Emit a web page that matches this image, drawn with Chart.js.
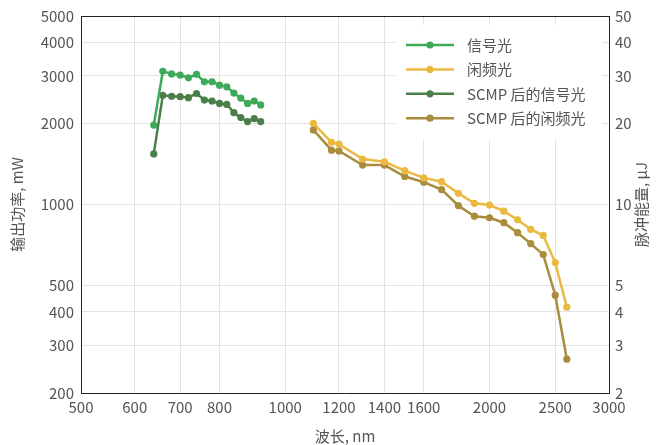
<!DOCTYPE html>
<html lang="zh">
<head>
    <meta charset="UTF-8">
    <title>信号光 / 闲频光 输出功率</title>
    <script src="https://cdn.jsdelivr.net/npm/chart.js"></script>
    <style>
        body { margin: 0; background: #fff; }
        .chart-box { width: 664px; height: 445px; position: relative; }
    </style>
</head>
<body>
    <div class="chart-box"><canvas id="chart"></canvas></div>

    <script>
        // wavelengths, nm
        const signalWl = [640, 660, 680, 700, 720, 740, 760, 780, 800, 820, 840, 860, 880, 900, 920];
        const idlerWl = [1100, 1170, 1200, 1300, 1400, 1500, 1600, 1700, 1800, 1900, 2000, 2100, 2200, 2300, 2400, 2500, 2600];

        // output power, mW
        const signalPower = [1970, 3120, 3050, 3020, 2950, 3040, 2850, 2850, 2770, 2730, 2590, 2480, 2370, 2420, 2340];
        const scmpSignalPower = [1540, 2540, 2520, 2510, 2490, 2580, 2440, 2420, 2370, 2350, 2190, 2100, 2030, 2080, 2030];
        const idlerPower = [2000, 1700, 1675, 1475, 1440, 1335, 1255, 1215, 1100, 1010, 995, 945, 878, 808, 768, 609, 416];
        const scmpIdlerPower = [1890, 1590, 1580, 1400, 1400, 1270, 1210, 1135, 990, 905, 893, 856, 786, 716, 652, 461, 267];

        const seriesLabels = ['信号光', '闲频光', 'SCMP 后的信号光', 'SCMP 后的闲频光'];
        const seriesColors = ['#3daa5a', '#ebb940', '#4a7f4a', '#a98c3c'];

        const xTicks = [500, 600, 700, 800, 1000, 1200, 1400, 1600, 2000, 2500, 3000];
        const yTicks = [200, 300, 400, 500, 1000, 2000, 3000, 4000, 5000];
        const y2Ticks = [2, 3, 4, 5, 10, 20, 30, 40, 50];

        const FONT = "'Noto Sans CJK SC', 'Noto Sans', sans-serif";
        const TEXT = '#555';
        const GRID = '#e3e3e3';
        const AXIS = '#222';

        const toPoints = (xs, ys) => xs.map((x, i) => ({ x: x, y: ys[i] }));
        const fixedTicks = list => scale => { scale.ticks = list.map(v => ({ value: v })); };

        function makeSet(i, xs, ys) {
            return {
                label: seriesLabels[i],
                data: toPoints(xs, ys),
                borderColor: seriesColors[i],
                backgroundColor: seriesColors[i],
                borderWidth: 2.5,
                pointRadius: 3.6,
                pointBorderWidth: 0,
                pointHoverRadius: 4,
                tension: 0,
                yAxisID: 'y'
            };
        }

        // top border, right-hand title and the legend inside the plot
        const extras = {
            id: 'extras',
            afterDatasetsDraw(chart) {
                const { ctx, chartArea: a } = chart;
                ctx.save();
                ctx.strokeStyle = AXIS;
                ctx.lineWidth = 1;
                ctx.beginPath();
                ctx.moveTo(a.left, a.top + 0.5);
                ctx.lineTo(a.right, a.top + 0.5);
                ctx.stroke();

                ctx.fillStyle = TEXT;
                ctx.font = '15px ' + FONT;
                ctx.textAlign = 'center';
                ctx.textBaseline = 'middle';
                ctx.translate(641, (a.top + a.bottom) / 2);
                ctx.rotate(-Math.PI / 2);
                ctx.fillText('脉冲能量, μJ', 0, 0);
                ctx.restore();

                // legend
                ctx.save();
                ctx.fillStyle = '#fff';
                ctx.fillRect(395, 25, 207, 115);
                ctx.font = '15px ' + FONT;
                ctx.textBaseline = 'middle';
                seriesLabels.forEach((label, i) => {
                    const y = 45 + i * 24.4;
                    ctx.strokeStyle = seriesColors[i];
                    ctx.fillStyle = seriesColors[i];
                    ctx.lineWidth = 2.5;
                    ctx.beginPath();
                    ctx.moveTo(406, y);
                    ctx.lineTo(454, y);
                    ctx.stroke();
                    ctx.beginPath();
                    ctx.arc(430, y, 3.6, 0, Math.PI * 2);
                    ctx.fill();
                    ctx.fillStyle = TEXT;
                    ctx.fillText(label, 467, y);
                });
                ctx.restore();
            }
        };

        new Chart(document.getElementById('chart'), {
            type: 'line',
            data: {
                datasets: [
                    makeSet(0, signalWl, signalPower),
                    makeSet(1, idlerWl, idlerPower),
                    makeSet(2, signalWl, scmpSignalPower),
                    makeSet(3, idlerWl, scmpIdlerPower)
                ]
            },
            options: {
                responsive: true,
                maintainAspectRatio: false,
                animation: false,
                layout: { padding: { top: 15, left: 0, right: 0, bottom: 0 } },
                plugins: {
                    legend: { display: false },
                    tooltip: { enabled: false }
                },
                scales: {
                    x: {
                        type: 'logarithmic',
                        min: 500,
                        max: 3000,
                        afterBuildTicks: fixedTicks(xTicks),
                        afterFit: s => { s.height = 52; },
                        grid: { color: GRID, drawTicks: false },
                        border: { color: AXIS, width: 1 },
                        ticks: {
                            autoSkip: false,
                            maxRotation: 0,
                            padding: 5,
                            color: TEXT,
                            font: { family: FONT, size: 15 },
                            callback: v => String(v)
                        },
                        title: {
                            display: true,
                            text: '波长, nm',
                            color: TEXT,
                            font: { family: FONT, size: 15 },
                            padding: { top: 0, bottom: 0 }
                        }
                    },
                    y: {
                        type: 'logarithmic',
                        position: 'left',
                        min: 200,
                        max: 5000,
                        afterBuildTicks: fixedTicks(yTicks),
                        afterFit: s => { s.width = 81; },
                        grid: { color: GRID, drawTicks: false },
                        border: { color: AXIS, width: 1 },
                        ticks: {
                            autoSkip: false,
                            padding: 7,
                            color: TEXT,
                            font: { family: FONT, size: 15 },
                            callback: v => String(v)
                        },
                        title: {
                            display: true,
                            text: '输出功率, mW',
                            color: TEXT,
                            font: { family: FONT, size: 15 },
                            padding: { top: 8, bottom: 0 }
                        }
                    },
                    y2: {
                        type: 'logarithmic',
                        position: 'right',
                        min: 2,
                        max: 50,
                        afterBuildTicks: fixedTicks(y2Ticks),
                        afterFit: s => { s.width = 55; },
                        grid: { display: false, drawTicks: false },
                        border: { color: AXIS, width: 1 },
                        ticks: {
                            autoSkip: false,
                            padding: 6,
                            color: TEXT,
                            font: { family: FONT, size: 15 },
                            callback: v => String(v)
                        }
                    }
                }
            },
            plugins: [extras]
        });
    </script>
</body>
</html>
